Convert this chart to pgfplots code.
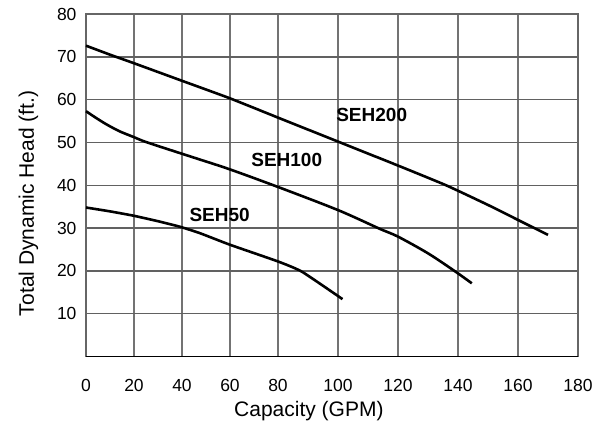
\documentclass[border=0pt]{standalone}
\usepackage{fontspec}
\setmainfont{Liberation Sans}
\usepackage{pgfplots}
\pgfplotsset{compat=1.18}
\begin{document}
\begin{tikzpicture}
\path[use as bounding box] (-86bp,-66.5bp) rectangle (514bp,356.5bp);
\begin{axis}[
  at={(0,0)}, anchor=south west,
  scale only axis, width=492bp, height=342.5bp,
  x coord trafo/.code={\pgfmathparse{(#1<80) ? (#1) : (80+1.25*(#1-80))}},
  xmin=0, xmax=180, ymin=0, ymax=80,
  xtick={0,20,40,60,80,100,120,140,160,180},
  xticklabels={0,20,40,60,80,100,120,140,160,180},
  ytick={10,20,30,40,50,60,70,80},
  /pgf/number format/assume math mode=true,
  major tick length=0pt,
  tick style={draw=none},
  xmajorgrids, ymajorgrids,
  x grid style={black!55, line width=1.4bp},
  y grid style={black!62, line width=1.4bp},
  axis line style={black!60, line width=1.4bp},
  tick label style={font=\fontsize{17.5bp}{17.5bp}\selectfont},
  yticklabel style={xshift=-6bp},
  xticklabel style={yshift=-19bp},
  xlabel={Capacity (GPM)},
  ylabel={Total Dynamic Head (ft.)},
  label style={font=\fontsize{21bp}{21bp}\selectfont},
  xlabel style={at={(axis description cs:0.453,0)}, anchor=base, yshift=-60bp},
  ylabel style={at={(axis description cs:0,0.447)}, anchor=base, yshift=52bp},
  clip=false,
]
\draw[black, line width=1.6bp] (rel axis cs:0,0) -- (rel axis cs:1,0);
% SEH200
\addplot[black, line width=2.6bp, smooth, tension=0.3] coordinates {
 (0,72.6) (10,70.5) (20,68.5) (40,64.4) (60,60.3) (80,55.8) (100,50.2)
 (120,44.6) (136,40.0) (150,35.4) (160,31.9) (170,28.4)};
% SEH100
\addplot[black, line width=2.6bp, smooth, tension=0.5] coordinates {
 (0,57.3) (4,55.8) (8.6,54.2) (14,52.6) (19.7,51.3) (25,50.1) (39.2,47.5)
 (47.5,46.0) (60,43.7) (80,39.6) (100,34.2) (114,29.8) (120,28.0)
 (130,24.1) (138.8,20.0) (144.6,17.1)};
% SEH50
\addplot[black, line width=2.6bp, smooth, tension=0.3] coordinates {
 (0,34.8) (10,33.9) (19.7,32.9) (30,31.6) (39.2,30.3) (47.5,28.8)
 (60,26.1) (80,22.2) (88,19.8) (101.5,13.4)};
\node[font=\bfseries\fontsize{19bp}{19bp}\selectfont] at (rel axis cs:0.5807,0.7055) {SEH200};
\node[font=\bfseries\fontsize{19bp}{19bp}\selectfont] at (rel axis cs:0.408,0.575) {SEH100};
\node[font=\bfseries\fontsize{19bp}{19bp}\selectfont] at (rel axis cs:0.2717,0.412) {SEH50};
\end{axis}
\end{tikzpicture}
\end{document}
